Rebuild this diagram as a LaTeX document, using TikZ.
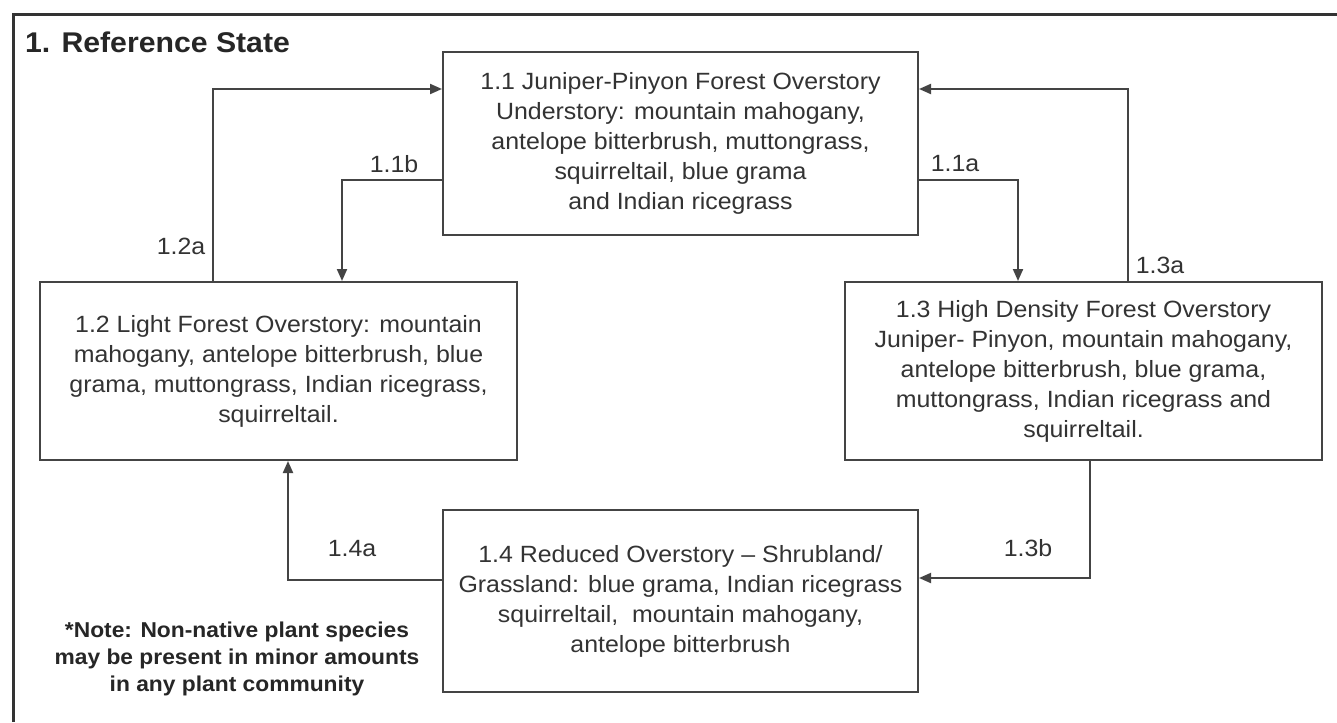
\documentclass[tikz,border=0pt]{standalone}
\usepackage{fontspec}
\setmainfont{Liberation Sans}[FakeStretch=1.06]
\usetikzlibrary{arrows.meta}
\definecolor{txt}{HTML}{333333}
\definecolor{ln}{HTML}{444444}
\begin{document}
\begin{tikzpicture}[x=1pt,y=-1pt,
  statebox/.style={draw=ln,line width=2pt,align=center,text=txt,inner sep=0pt,
    font=\fontsize{23.5}{30}\selectfont},
  arr/.style={draw=ln,line width=2pt,-{Triangle[length=12pt,width=10pt]}},
  lbl/.style={text=txt,font=\fontsize{23.5}{28}\selectfont,inner sep=0pt}]
\useasboundingbox (0,0) rectangle (1337,722);
\fill[white] (0,0) rectangle (1337,722);
% outer frame
\draw[line width=3pt,color=black!80] (13,722) -- (13,15) -- (1337,15);
\node[anchor=base west,inner sep=0pt,text=black!85,font=\fontsize{28.5}{32}\selectfont\bfseries] (title) at (25,53) {1. Reference State};
% boxes
\node[statebox,minimum width=475pt,minimum height=183pt] (b11) at (680.5,143.5)
 {1.1 Juniper-Pinyon Forest Overstory\\Understory: mountain mahogany,\\antelope bitterbrush, muttongrass,\\squirreltail, blue grama\\and Indian ricegrass};
\node[statebox,minimum width=477pt,minimum height=178pt] (b12) at (278.5,371)
 {1.2 Light Forest Overstory: mountain\\mahogany, antelope bitterbrush, blue\\grama, muttongrass, Indian ricegrass,\\squirreltail.};
\node[statebox,minimum width=477pt,minimum height=178pt] (b13) at (1083.5,371)
 {1.3 High Density Forest Overstory\\Juniper- Pinyon, mountain mahogany,\\antelope bitterbrush, blue grama,\\muttongrass, Indian ricegrass and\\squirreltail.};
\node[statebox,minimum width=475pt,minimum height=182pt] (b14) at (680.5,601)
 {1.4 Reduced Overstory -- Shrubland/\\Grassland: blue grama, Indian ricegrass\\squirreltail,\ \ mountain mahogany,\\antelope bitterbrush};
% helper coordinates
\coordinate (p12a) at (213,89);
\coordinate (p11b) at (342,180);
\coordinate (p11a) at (1018,180);
\coordinate (p13a) at (1128,89);
\coordinate (p13b) at (1090,578);
\coordinate (p14a) at (288,580);
% connectors
\draw[arr] (b12.north -| p12a) |- (b11.west |- p12a);
\draw[arr] (b11.west |- p11b) -| (b12.north -| p11b);
\draw[arr] (b11.east |- p11a) -| (b13.north -| p11a);
\draw[arr] (b13.north -| p13a) |- (b11.east |- p13a);
\draw[arr] (b13.south -| p13b) |- (b14.east |- p13b);
\draw[arr] (b14.west |- p14a) -| (b12.south -| p14a);
% labels
\node[lbl] (l12a) at (181,246) {1.2a};
\node[lbl] (l11b) at (394,164) {1.1b};
\node[lbl] (l11a) at (955,164) {1.1a};
\node[lbl] (l13a) at (1160,265) {1.3a};
\node[lbl] (l13b) at (1028,548) {1.3b};
\node[lbl] (l14a) at (352,549) {1.4a};
% note
\node[align=center,text=black!85,inner sep=0pt,font=\fontsize{21.5}{27}\selectfont\bfseries] (note) at (237,659)
 {*Note: Non-native plant species\\may be present in minor amounts\\in any plant community};
\end{tikzpicture}
\end{document}
